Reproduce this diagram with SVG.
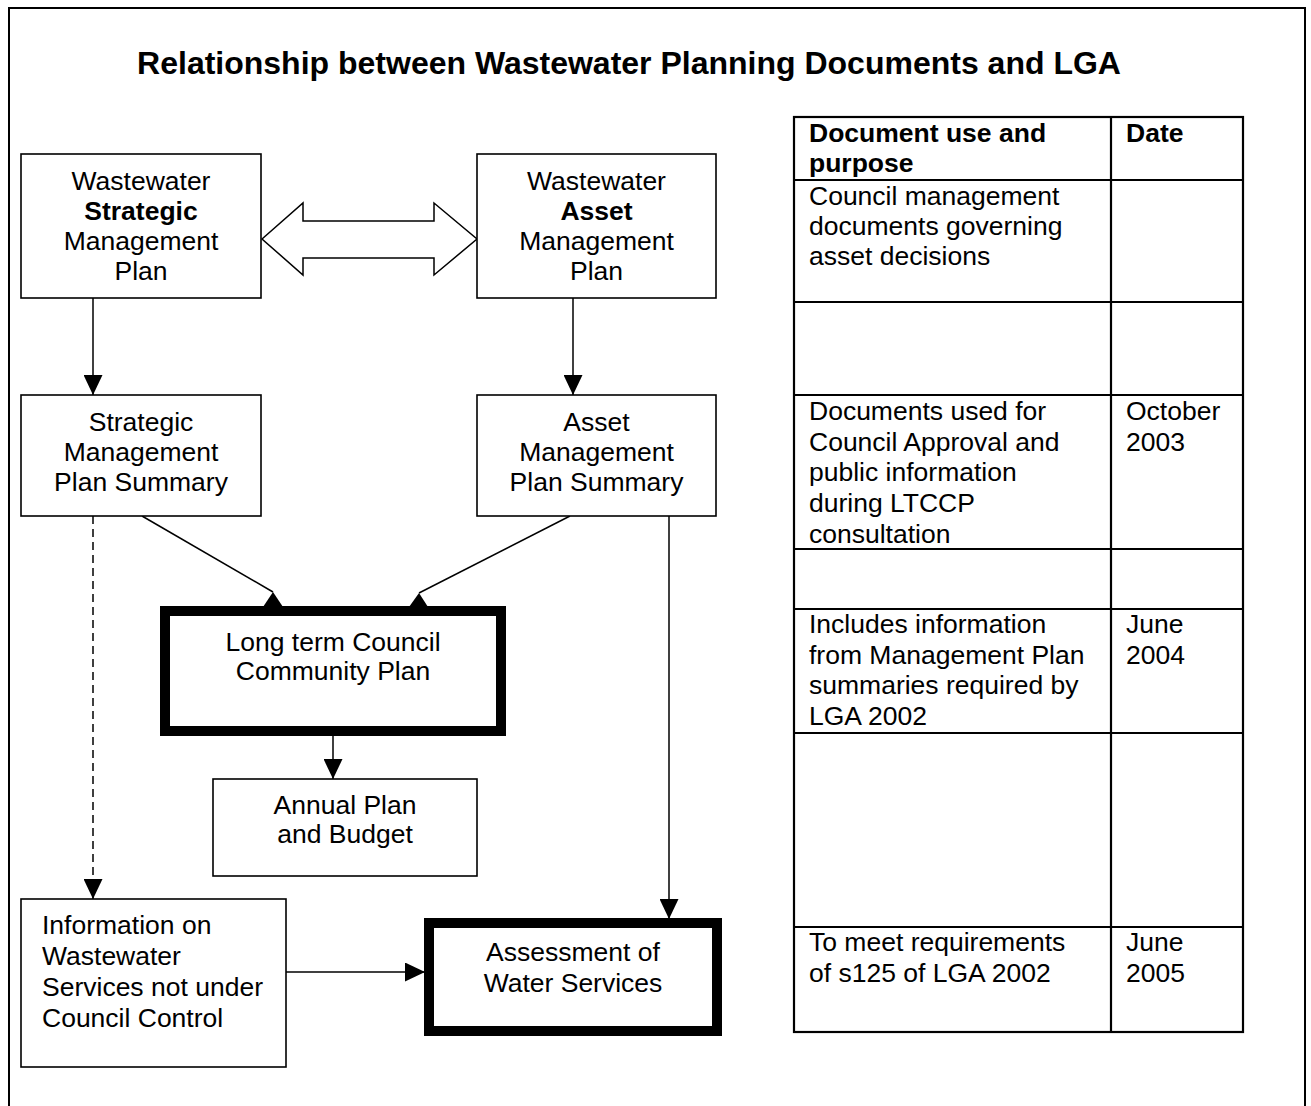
<svg xmlns="http://www.w3.org/2000/svg" width="1311" height="1106" viewBox="0 0 1311 1106">
<style>
text{font-family:"Liberation Sans",Arial,Helvetica,sans-serif;font-size:26.5px;fill:#000}
.c{text-anchor:middle}
.b{font-weight:bold}
.box{fill:#fff;stroke:#000;stroke-width:1.6}
.thick{fill:#fff;stroke:#000;stroke-width:10}
.ln{fill:none;stroke:#000;stroke-width:1.5}
.tb{fill:none;stroke:#000;stroke-width:2.2}
</style>
<defs>
<marker id="ah" markerUnits="userSpaceOnUse" markerWidth="20" markerHeight="19" refX="20" refY="9.5" orient="auto">
<path d="M0,0 L20,9.5 L0,19 z" fill="#000"/>
</marker>
</defs>
<rect x="0" y="0" width="1311" height="1106" fill="#fff"/>
<path d="M9,1110 V8 H1305 V1110" fill="none" stroke="#000" stroke-width="2"/>
<text id="title" class="c b" x="629" y="74" style="font-size:32px">Relationship between Wastewater Planning Documents and LGA</text>

<g id="connectors">
<line class="ln" x1="93" y1="298" x2="93" y2="395" marker-end="url(#ah)"/>
<line class="ln" x1="573" y1="298" x2="573" y2="395" marker-end="url(#ah)"/>
<line class="ln" x1="93" y1="516" x2="93" y2="899" stroke-dasharray="8,5" marker-end="url(#ah)"/>
<line class="ln" x1="142" y1="516" x2="273" y2="592"/>
<polygon points="273,592 263,607 283,607" fill="#000"/>
<line class="ln" x1="570" y1="516" x2="419" y2="593"/>
<polygon points="419,593 409,607 428,607" fill="#000"/>
<line class="ln" x1="333" y1="736" x2="333" y2="779" marker-end="url(#ah)"/>
<line class="ln" x1="669" y1="516" x2="669" y2="919" marker-end="url(#ah)"/>
<line class="ln" x1="286" y1="972" x2="425" y2="972" marker-end="url(#ah)"/>
<polygon points="262,239 303,203 303,221 434,221 434,203 477,239 434,275 434,258 303,258 303,275" fill="#fff" stroke="#000" stroke-width="1.5"/>
</g>

<g id="n-wsmp">
<rect class="box" x="21" y="154" width="240" height="144"/>
<text class="c" x="141" y="190">Wastewater</text>
<text class="c b" x="141" y="220">Strategic</text>
<text class="c" x="141" y="250">Management</text>
<text class="c" x="141" y="280">Plan</text>
</g>
<g id="n-wamp">
<rect class="box" x="477" y="154" width="239" height="144"/>
<text class="c" x="596.5" y="190">Wastewater</text>
<text class="c b" x="596.5" y="220">Asset</text>
<text class="c" x="596.5" y="250">Management</text>
<text class="c" x="596.5" y="280">Plan</text>
</g>
<g id="n-smps">
<rect class="box" x="21" y="395" width="240" height="121"/>
<text class="c" x="141" y="431">Strategic</text>
<text class="c" x="141" y="461">Management</text>
<text class="c" x="141" y="491">Plan Summary</text>
</g>
<g id="n-amps">
<rect class="box" x="477" y="395" width="239" height="121"/>
<text class="c" x="596.5" y="431">Asset</text>
<text class="c" x="596.5" y="461">Management</text>
<text class="c" x="596.5" y="491">Plan Summary</text>
</g>
<g id="n-ltccp">
<rect class="thick" x="165" y="611" width="336" height="120"/>
<text class="c" x="333" y="651">Long term Council</text>
<text class="c" x="333" y="680">Community Plan</text>
</g>
<g id="n-annual">
<rect class="box" x="213" y="779" width="264" height="97"/>
<text class="c" x="345" y="814">Annual Plan</text>
<text class="c" x="345" y="843">and Budget</text>
</g>
<g id="n-info">
<rect class="box" x="21" y="899" width="265" height="168"/>
<text x="42" y="934">Information on</text>
<text x="42" y="965">Wastewater</text>
<text x="42" y="996">Services not under</text>
<text x="42" y="1027">Council Control</text>
</g>
<g id="n-assess">
<rect class="thick" x="429" y="923" width="288" height="108"/>
<text class="c" x="573" y="961">Assessment of</text>
<text class="c" x="573" y="992">Water Services</text>
</g>

<g id="table">
<rect class="tb" x="794" y="117" width="449" height="915"/>
<line class="tb" x1="1111" y1="117" x2="1111" y2="1032"/>
<line class="tb" x1="794" y1="180" x2="1243" y2="180"/>
<line class="tb" x1="794" y1="302" x2="1243" y2="302"/>
<line class="tb" x1="794" y1="395" x2="1243" y2="395"/>
<line class="tb" x1="794" y1="549" x2="1243" y2="549"/>
<line class="tb" x1="794" y1="609" x2="1243" y2="609"/>
<line class="tb" x1="794" y1="733" x2="1243" y2="733"/>
<line class="tb" x1="794" y1="927" x2="1243" y2="927"/>
<text class="b" x="809" y="142">Document use and</text>
<text class="b" x="809" y="172">purpose</text>
<text class="b" x="1126" y="142">Date</text>
<text x="809" y="205">Council management</text>
<text x="809" y="235">documents governing</text>
<text x="809" y="265">asset decisions</text>
<text x="809" y="420">Documents used for</text>
<text x="809" y="451">Council Approval and</text>
<text x="809" y="481">public information</text>
<text x="809" y="512">during LTCCP</text>
<text x="809" y="543">consultation</text>
<text x="1126" y="420">October</text>
<text x="1126" y="451">2003</text>
<text x="809" y="633">Includes information</text>
<text x="809" y="664">from Management Plan</text>
<text x="809" y="694">summaries required by</text>
<text x="809" y="725">LGA 2002</text>
<text x="1126" y="633">June</text>
<text x="1126" y="664">2004</text>
<text x="809" y="951">To meet requirements</text>
<text x="809" y="982">of s125 of LGA 2002</text>
<text x="1126" y="951">June</text>
<text x="1126" y="982">2005</text>
</g>
</svg>
